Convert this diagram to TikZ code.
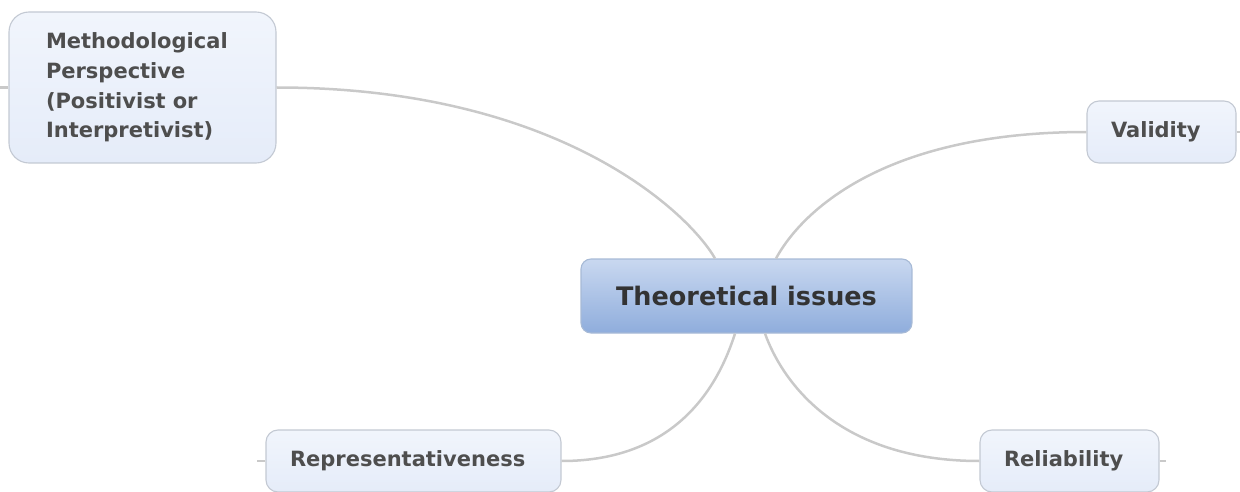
\documentclass[tikz,border=0pt]{standalone}
\usepackage{fontspec}
\setmainfont{DejaVu Sans}
\definecolor{edgegray}{HTML}{C9C9C9}
\definecolor{boxline}{HTML}{C3C9D3}
\definecolor{boxtop}{HTML}{F1F5FC}
\definecolor{boxbottom}{HTML}{E5ECF9}
\definecolor{hubtop}{HTML}{C9D8F0}
\definecolor{hubbottom}{HTML}{8FADDC}
\definecolor{hubline}{HTML}{A7BAD6}
\definecolor{labeltext}{HTML}{4E4E4E}
\definecolor{hubtext}{HTML}{333333}
\begin{document}
\begin{tikzpicture}[x=1pt,y=-1pt,
  edge/.style={draw=edgegray,line width=2.5pt},
  topic/.style={draw=boxline,line width=1.1pt,rounded corners=12pt,
    top color=boxtop,bottom color=boxbottom,inner ysep=0pt,inner xsep=24pt,
    align=left,text=labeltext,font=\fontsize{21}{29.6}\selectfont\bfseries},
  hub/.style={draw=hubline,line width=1.1pt,rounded corners=10pt,
    top color=hubtop,bottom color=hubbottom,inner sep=0pt,
    text=hubtext,font=\fontsize{25.5}{30}\selectfont\bfseries}]
\useasboundingbox (0,0) rectangle (1240,492);

% central topic
\node[hub,minimum width=331pt,minimum height=74pt] (c) at (746.5,296) {Theoretical issues};

% branch topics
\node[topic,rounded corners=20pt,inner xsep=37pt,text width=193pt,minimum height=151pt]
  (m) at (142.5,87.5) {Methodological\\Perspective\\(Positivist or\\Interpretivist)};
\node[topic,text width=101pt,minimum height=62pt] (v) at (1161.5,132) {Validity};
\node[topic,text width=247pt,minimum height=62pt] (r) at (413.5,461) {Representativeness};
\node[topic,text width=131pt,minimum height=62pt] (l) at (1069.5,461) {Reliability};

% short stubs at the outer sides of the branch topics
\coordinate (mstub) at (0,87.5);
\coordinate (vstub) at (1240,132);
\coordinate (rstub) at (257,461);
\coordinate (lstub) at (1166,461);
\draw[edge] (m.west) -- (mstub);
\draw[edge] (v.east) -- (vstub);
\draw[edge] (r.west) -- (rstub);
\draw[edge] (l.east) -- (lstub);

% curved connectors from the hub
\draw[edge] ([xshift=-31.5pt]c.north) .. controls +(-25,-44) and +(284,0) .. (m.east);
\draw[edge] ([xshift=29.5pt]c.north) .. controls +(24,-44) and +(-207,0) .. (v.west);
\draw[edge] ([xshift=-11.5pt]c.south) .. controls +(-15,47) and +(119,0) .. (r.east);
\draw[edge] ([xshift=18.5pt]c.south) .. controls +(18,50) and +(-140,0) .. (l.west);
\end{tikzpicture}
\end{document}
